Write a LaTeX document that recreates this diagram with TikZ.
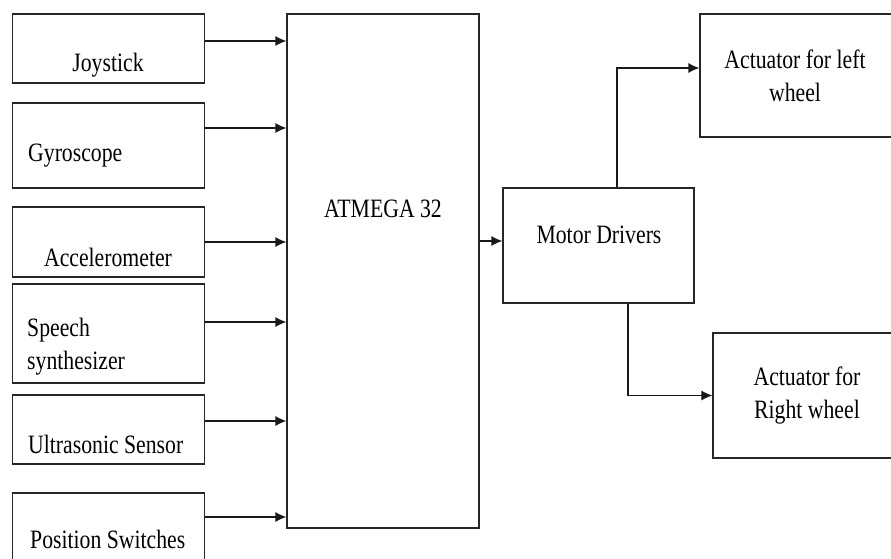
\documentclass[tikz,border=0pt]{standalone}
\usepackage{fontspec}
\setmainfont{Liberation Serif}[FakeStretch=0.82]
\usetikzlibrary{arrows.meta}

\begin{document}
\begin{tikzpicture}[x=1pt,y=-1pt,
    box/.style={draw=black!85,line width=1.2pt,inner sep=0pt},
    sens/.style={box,minimum width=192pt},
    lbl/.style={inner sep=0pt,font=\fontsize{26.5}{33}\selectfont,align=left},
    arr/.style={-{Latex[length=11pt,width=10pt]},black!90,line width=1.2pt}
  ]
  \useasboundingbox (0,0) rectangle (891,559);
  % sensor boxes
  \node[sens,minimum height=69pt] (joy) at (108.5,48.5) {};
  \node[sens,minimum height=85pt] (gyro) at (108.5,145.5) {};
  \node[sens,minimum height=70pt] (acc) at (108.5,242) {};
  \node[sens,minimum height=99pt] (spch) at (108.5,333.5) {};
  \node[sens,minimum height=69pt] (ultra) at (108.5,429.5) {};
  \node[sens,minimum height=69pt] (pos) at (108.5,527.5) {};
  % controller and outputs
  \node[box,minimum width=192pt,minimum height=514pt] (mcu) at (383,271) {};
  \node[box,minimum width=191pt,minimum height=115pt] (drv) at (598.5,245.5) {};
  \node[box,minimum width=195pt,minimum height=123pt] (actL) at (797.5,75.5) {};
  \node[box,minimum width=182pt,minimum height=125pt] (actR) at (804,395.5) {};
  % labels
  \node[lbl,anchor=base] (joyL) at (108,72) {Joystick};
  \node[lbl,anchor=base west] (gyroL) at (28,161) {Gyroscope};
  \node[lbl,anchor=base] (accL) at (108,266) {Accelerometer};
  \node[lbl,anchor=west] (spchL) at (27,347) {Speech\\synthesizer};
  \node[lbl,anchor=base west] (ultraL) at (28,453) {Ultrasonic Sensor};
  \node[lbl,anchor=base west] (posL) at (30,548) {Position Switches};
  \node[lbl,anchor=base] (mcuL) at (383,217) {ATMEGA 32};
  \node[lbl,anchor=base] (drvL) at (599,243) {Motor Drivers};
  \node[lbl,align=center] (actLL) at (795,76) {Actuator for left\\wheel};
  \node[lbl,align=center] (actRL) at (807,396) {Actuator for\\Right wheel};
  % inputs into the controller
  \foreach \n/\s in {joy/7.5,gyro/17.5,acc/0,spch/11.5,ultra/8.5,pos/10.5}
    \draw[arr] ([yshift=\s pt]\n.east) -- ([yshift=\s pt]\n.east -| mcu.west);
  \draw[arr] ([yshift=4.5pt]drv.west -| mcu.east) -- ([yshift=4.5pt]drv.west);
  \draw[arr] ([xshift=18.5pt]drv.north) |- ([yshift=7.5pt]actL.west);
  \draw[arr] ([xshift=29.5pt]drv.south) |- (actR.west);
\end{tikzpicture}
\end{document}
